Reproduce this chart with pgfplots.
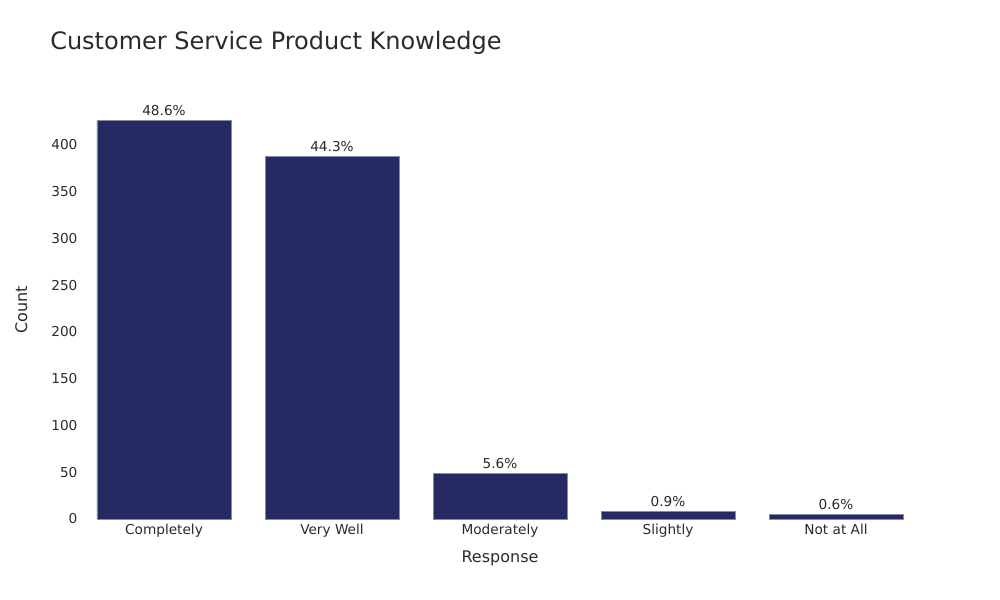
\documentclass[border=0pt]{standalone}
\usepackage{pgfplots}
\pgfplotsset{compat=1.18}
\usepackage{fontspec}
\setmainfont{DejaVu Sans}
\definecolor{barc}{HTML}{252A62}
\definecolor{txt}{HTML}{2A2A2A}
\begin{document}
\begin{tikzpicture}
\useasboundingbox (0,0) rectangle (750pt,450pt);
\node[anchor=base west, inner sep=0pt, font=\fontsize{18}{20}\selectfont, text=txt] at (37.5pt,412.5pt) {Customer Service Product Knowledge};
\begin{axis}[
  at={(60pt,60.75pt)}, anchor=south west,
  scale only axis, width=630pt, height=314.25pt,
  xmin=-0.5, xmax=4.5, ymin=0, ymax=448,
  axis line style={draw=none}, tick style={draw=none},
  major tick length=0pt,
  xtick={0,1,2,3,4},
  xticklabels={Completely,Very Well,Moderately,Slightly,Not at All},
  ytick={0,50,100,150,200,250,300,350,400},
  tick label style={font=\fontsize{10.25}{12}\selectfont, text=txt},
  xticklabel style={anchor=base, inner sep=0pt, yshift=-12pt},
  yticklabel style={anchor=east, inner sep=0pt, xshift=-1.75pt},
  /pgf/number format/assume math mode=true,
  xlabel={Response}, ylabel={Count},
  label style={font=\fontsize{12}{14}\selectfont, text=txt},
  xlabel style={at={(axis description cs:0.5,0)}, anchor=base, inner sep=0pt, yshift=-33pt},
  ylabel style={at={(axis description cs:0,0.5)}, anchor=center, inner sep=0pt, yshift=44pt},
  ybar, bar width=100.5pt, bar shift=0pt,
  point meta=explicit symbolic,
  nodes near coords,
  nodes near coords style={anchor=base, inner sep=0pt, yshift=3.75pt, font=\fontsize{10.25}{12}\selectfont, text=txt},
  clip=false,
]
\addplot[fill=barc, draw=barc!55!white, line width=0.5pt] coordinates {
  (0,426) [48.6\%]
  (1,388) [44.3\%]
  (2,49) [5.6\%]
  (3,8) [0.9\%]
  (4,5) [0.6\%]
};
\end{axis}
\end{tikzpicture}
\end{document}
